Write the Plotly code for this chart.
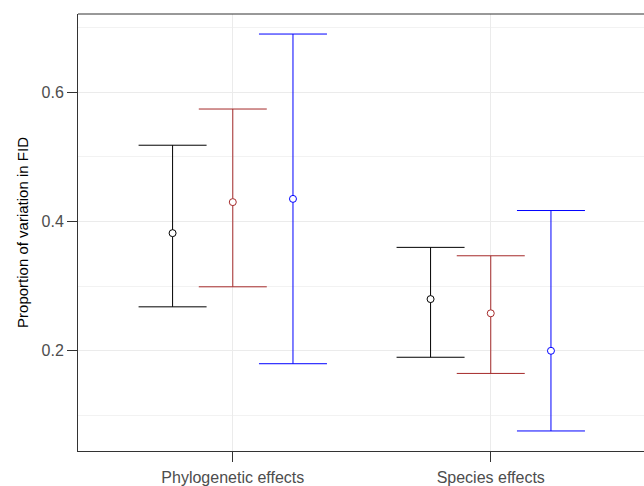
import plotly.graph_objects as go

categories = ["Phylogenetic effects", "Species effects"]
groups = ["A", "B", "C"]
colors = ["#000000", "#A52A2A", "#0000FF"]

means = {
    "A": [0.382, 0.280],
    "B": [0.430, 0.258],
    "C": [0.435, 0.200],
}
lower = {
    "A": [0.268, 0.190],
    "B": [0.299, 0.165],
    "C": [0.180, 0.076],
}
upper = {
    "A": [0.518, 0.360],
    "B": [0.574, 0.347],
    "C": [0.690, 0.417],
}

dodge = 0.7
n = len(groups)
fig = go.Figure()
for gi, g in enumerate(groups):
    off = -dodge / 2 + dodge / n * (gi + 0.5)
    xs = [i + 1 + off for i in range(len(categories))]
    m = means[g]
    fig.add_trace(go.Scatter(
        x=xs, y=m, mode="markers",
        marker=dict(symbol="circle", size=7, color="white",
                    line=dict(color=colors[gi], width=1)),
        error_y=dict(type="data", symmetric=False,
                     array=[u - v for u, v in zip(upper[g], m)],
                     arrayminus=[v - l for v, l in zip(m, lower[g])],
                     color=colors[gi], thickness=1, width=34),
        showlegend=False,
    ))

font = "Liberation Sans, Arial, sans-serif"
fig.update_layout(
    width=644, height=486,
    margin=dict(l=78, r=0, t=14, b=35, autoexpand=False),
    plot_bgcolor="white", paper_bgcolor="white",
    font=dict(family=font, size=16, color="#4D4D4D"),
    xaxis=dict(
        range=[0.4, 2.594], tickvals=[1, 2], ticktext=categories,
        showline=True, linecolor="#333333", linewidth=1, mirror=False,
        showgrid=True, gridcolor="#EBEBEB", gridwidth=1,
        ticks="outside", ticklen=10, tickcolor="#333333", tickwidth=1,
        ticklabelstandoff=2,
        zeroline=False, tickfont=dict(size=16, color="#4D4D4D"),
        automargin=False,
    ),
    yaxis=dict(
        range=[0.045, 0.721], tickvals=[0.2, 0.4, 0.6],
        ticktext=["0.2", "0.4", "0.6"],
        showline=True, linecolor="#333333", linewidth=1, mirror=False,
        showgrid=True, gridcolor="#EBEBEB", gridwidth=1,
        minor=dict(tickvals=[0.1, 0.3, 0.5, 0.7], showgrid=True,
                   gridcolor="#F2F2F2", gridwidth=1, ticks=""),
        ticks="outside", ticklen=10, tickcolor="#333333", tickwidth=1,
        zeroline=False, tickfont=dict(size=16, color="#4D4D4D"),
        automargin=False,
        title=dict(text="Proportion of variation in FID",
                   font=dict(size=15, color="#000000"), standoff=9),
    ),
    shapes=[dict(type="line", xref="paper", yref="paper", x0=0, x1=1,
                 y0=1, y1=1, line=dict(color="#333333", width=1))],
)
fig.write_html(
    "out.html",
    config={"displayModeBar": False},
    post_script="document.body.style.margin='0';document.body.style.overflow='hidden';",
)
